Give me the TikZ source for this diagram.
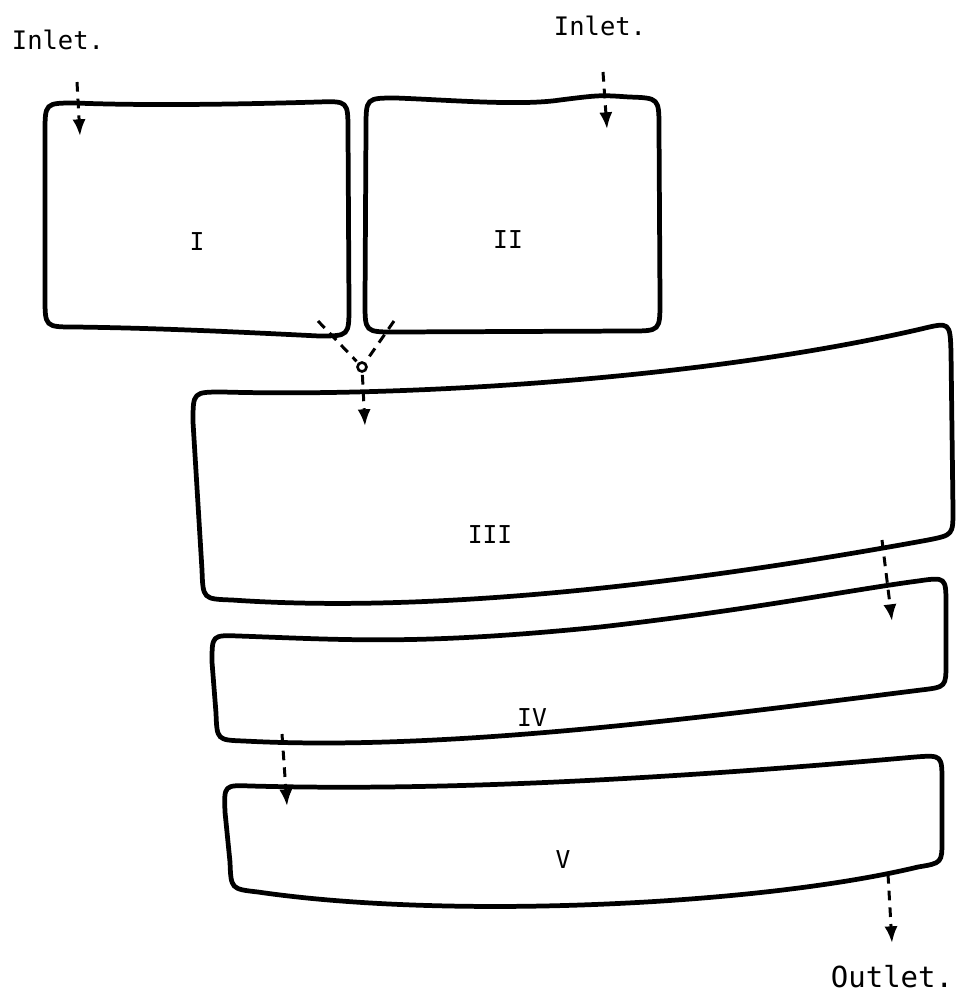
\documentclass[tikz,border=0pt]{standalone}
\usepackage{fontspec}
\setmonofont{DejaVu Sans Mono}
\usetikzlibrary{arrows.meta,calc}
\tikzset{
  vessel/.style={draw=black, line width=2.7pt, line join=round},
  flow/.style={draw=black, line width=1.7pt, dash pattern=on 5.5pt off 4pt,
               -{Latex[length=9.5pt,width=7.5pt]}},
  flowline/.style={draw=black, line width=1.7pt, dash pattern=on 5.5pt off 4pt},
  tag/.style={font=\ttfamily\fontsize{14.5}{16}\selectfont, inner sep=0pt},
  numeral/.style={font=\ttfamily\fontsize{14}{16}\selectfont, inner sep=0pt}
}
\begin{document}
\begin{tikzpicture}[x=0.02cm, y=-0.02cm]
  \useasboundingbox (0,0) rectangle (957,998);

  % vessel I
  \draw[vessel] (45,133) .. controls (45,103) .. (75,103)
     .. controls (150,106) and (250,104) .. (318,102)
     .. controls (348,101) .. (348,131) -- (349,306)
     .. controls (349,336) .. (319,336)
     .. controls (220,331) and (150,328) .. (75,327)
     .. controls (45,327) .. (45,297) -- cycle;
  % vessel II
  \draw[vessel] (366,128) .. controls (366,98) .. (396,98)
     .. controls (450,100) and (520,106) .. (560,100)
     .. controls (600,95) .. (629,97)
     .. controls (659,98) .. (659,128) -- (660,301)
     .. controls (660,331) .. (630,331) -- (395,332)
     .. controls (365,332) .. (365,302) -- cycle;
  % vessel III
  \draw[vessel] (193,422) .. controls (193,392) .. (223,392)
     .. controls (400,397) and (700,380) .. (921,329)
     .. controls (950,322) .. (951,352) -- (953,510)
     .. controls (953,535) .. (928,540)
     .. controls (720,578) and (450,615) .. (232,600)
     .. controls (203,599) .. (202,570) -- cycle;
  % vessel IV
  \draw[vessel] (212,662) .. controls (212,635) .. (239,636)
     .. controls (350,640) and (420,645) .. (600,627)
     .. controls (750,610) and (850,590) .. (918,581)
     .. controls (946,577) .. (946,605) -- (946,663)
     .. controls (946,687) .. (921,690)
     .. controls (720,715) and (450,752) .. (244,741)
     .. controls (217,740) .. (216,713) -- cycle;
  % vessel V
  \draw[vessel] (225,812) .. controls (224,785) .. (251,786)
     .. controls (400,790) and (600,785) .. (915,757)
     .. controls (942,755) .. (942,782) -- (942,840)
     .. controls (942,863) .. (918,867)
     .. controls (760,905) and (450,920) .. (258,892)
     .. controls (231,889) .. (230,862) -- cycle;

  % numerals
  \node[numeral] (nI)   at (197,242) {I};
  \node[numeral] (nII)  at (508,240) {II};
  \node[numeral] (nIII) at (490,535) {III};
  \node[numeral] (nIV)  at (532,718) {IV};
  \node[numeral] (nV)   at (563,860) {V};

  % inlet / outlet labels
  \node[tag] (in1) at (58,40)   {Inlet.};
  \node[tag] (in2) at (600,26)  {Inlet.};
  \node[tag, font=\ttfamily\fontsize{16.5}{18}\selectfont] (out) at (892,977) {Outlet.};

  % flow path points
  \coordinate (a1s) at (77,82);   \coordinate (a1e) at (80,136);
  \coordinate (a2s) at (603,72);  \coordinate (a2e) at (607,129);
  \coordinate (jl)  at (318,321); \coordinate (jr)  at (394,321);
  \coordinate (jc)  at (362,367);
  \coordinate (j3)  at (365,426);
  \coordinate (b3s) at (882,540); \coordinate (b3e) at (892,621);
  \coordinate (b4s) at (282,734); \coordinate (b4e) at (287,806);
  \coordinate (b5s) at (888,874); \coordinate (b5e) at (892,943);

  % flow arrows
  \draw[flow] (a1s) -- (a1e);
  \draw[flow] (a2s) -- (a2e);
  \draw[flowline] (jl) -- ($(jc)!4.5pt!(jl)$);
  \draw[flowline] (jr) -- ($(jc)!4.5pt!(jr)$);
  \draw[line width=1.5pt] (jc) circle[radius=4.5];
  \draw[flow] ($(jc)!4.5pt!(j3)$) -- (j3);
  \draw[flow] (b3s) -- (b3e);
  \draw[flow] (b4s) -- (b4e);
  \draw[flow] (b5s) -- (b5e);
\end{tikzpicture}
\end{document}
